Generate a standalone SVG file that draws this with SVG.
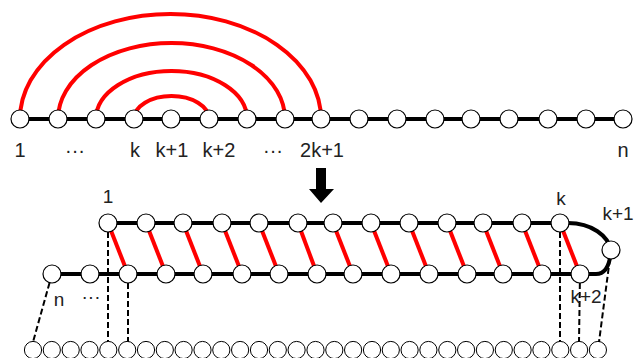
<svg xmlns="http://www.w3.org/2000/svg" width="636" height="358" viewBox="0 0 636 358">
<defs>
<style>
.n{fill:#fff;stroke:#000;stroke-width:1.2}
.b{fill:#fff;stroke:#000;stroke-width:1}
.blk{fill:none;stroke:#000;stroke-width:4}
.red{fill:none;stroke:#f00;stroke-width:4}
.dash{fill:none;stroke:#000;stroke-width:2;stroke-dasharray:6,3}
text{font-family:"Liberation Sans",Arial,sans-serif;fill:#222;text-anchor:middle}
.t1{font-size:20px}
.t2{font-size:19px}
</style>
</defs>
<rect width="636" height="358" fill="#fff"/>
<g id="connectors">
<line class="blk" x1="20" y1="119" x2="623" y2="119"/>
<path class="red" d="M20,119 A150.5,105 0 0 1 321,119"/>
<path class="red" d="M58,119 A113.5,76 0 0 1 285,119"/>
<path class="red" d="M96,119 A75.5,48 0 0 1 247,119"/>
<path class="red" d="M134,119 A37.5,23 0 0 1 209,119"/>
<path class="blk" d="M108,223 L568,223 C592,223 608,236 611,250"/>
<path class="blk" d="M52,274 L596,274 C605,274 610,265 611,250"/>
<line class="red" x1="108" y1="223" x2="128" y2="274"/>
<line class="red" x1="146" y1="223" x2="166" y2="274"/>
<line class="red" x1="183" y1="223" x2="203" y2="274"/>
<line class="red" x1="222" y1="223" x2="242" y2="274"/>
<line class="red" x1="259" y1="223" x2="279" y2="274"/>
<line class="red" x1="298" y1="223" x2="317" y2="274"/>
<line class="red" x1="333" y1="223" x2="353" y2="274"/>
<line class="red" x1="371" y1="223" x2="391" y2="274"/>
<line class="red" x1="409" y1="223" x2="429" y2="274"/>
<line class="red" x1="447" y1="223" x2="467" y2="274"/>
<line class="red" x1="483" y1="223" x2="503" y2="274"/>
<line class="red" x1="522" y1="223" x2="542" y2="274"/>
<line class="red" x1="560" y1="223" x2="580" y2="274"/>
<line class="dash" x1="52" y1="274" x2="33" y2="342"/>
<line class="dash" x1="108" y1="223" x2="108" y2="342"/>
<line class="dash" x1="128" y1="274" x2="128" y2="342"/>
<line class="dash" x1="560" y1="223" x2="560" y2="342"/>
<line class="dash" x1="580" y1="274" x2="579" y2="342"/>
<line class="dash" x1="611" y1="250" x2="599" y2="342"/>
<path d="M316,168 H326 V189 H334 L321,203 L309,189 H316 Z" fill="#000"/>
</g>
<g id="top-nodes">
<circle class="n" cx="20" cy="119" r="9"/>
<circle class="n" cx="58" cy="119" r="9"/>
<circle class="n" cx="96" cy="119" r="9"/>
<circle class="n" cx="134" cy="119" r="9"/>
<circle class="n" cx="171" cy="119" r="9"/>
<circle class="n" cx="209" cy="119" r="9"/>
<circle class="n" cx="247" cy="119" r="9"/>
<circle class="n" cx="285" cy="119" r="9"/>
<circle class="n" cx="321" cy="119" r="9"/>
<circle class="n" cx="359" cy="119" r="9"/>
<circle class="n" cx="397" cy="119" r="9"/>
<circle class="n" cx="435" cy="119" r="9"/>
<circle class="n" cx="471" cy="119" r="9"/>
<circle class="n" cx="509" cy="119" r="9"/>
<circle class="n" cx="548" cy="119" r="9"/>
<circle class="n" cx="586" cy="119" r="9"/>
<circle class="n" cx="623" cy="119" r="9"/>
</g>
<g id="top-labels">
<text class="t1" x="20" y="157">1</text>
<text class="t1" x="75" y="157">···</text>
<text class="t1" x="135" y="157">k</text>
<text class="t1" x="172" y="157">k+1</text>
<text class="t1" x="219" y="157">k+2</text>
<text class="t1" x="273" y="157">···</text>
<text class="t1" x="322" y="157">2k+1</text>
<text class="t1" x="623" y="157">n</text>
</g>
<g id="fold-top-row">
<circle class="n" cx="108" cy="223" r="9"/>
<circle class="n" cx="146" cy="223" r="9"/>
<circle class="n" cx="183" cy="223" r="9"/>
<circle class="n" cx="222" cy="223" r="9"/>
<circle class="n" cx="259" cy="223" r="9"/>
<circle class="n" cx="298" cy="223" r="9"/>
<circle class="n" cx="333" cy="223" r="9"/>
<circle class="n" cx="371" cy="223" r="9"/>
<circle class="n" cx="409" cy="223" r="9"/>
<circle class="n" cx="447" cy="223" r="9"/>
<circle class="n" cx="483" cy="223" r="9"/>
<circle class="n" cx="522" cy="223" r="9"/>
<circle class="n" cx="560" cy="223" r="9"/>
</g>
<g id="fold-turn">
<circle class="n" cx="611" cy="250" r="9"/>
</g>
<g id="fold-bottom-row">
<circle class="n" cx="52" cy="274" r="9"/>
<circle class="n" cx="90" cy="274" r="9"/>
<circle class="n" cx="128" cy="274" r="9"/>
<circle class="n" cx="166" cy="274" r="9"/>
<circle class="n" cx="203" cy="274" r="9"/>
<circle class="n" cx="242" cy="274" r="9"/>
<circle class="n" cx="279" cy="274" r="9"/>
<circle class="n" cx="317" cy="274" r="9"/>
<circle class="n" cx="353" cy="274" r="9"/>
<circle class="n" cx="391" cy="274" r="9"/>
<circle class="n" cx="429" cy="274" r="9"/>
<circle class="n" cx="467" cy="274" r="9"/>
<circle class="n" cx="503" cy="274" r="9"/>
<circle class="n" cx="542" cy="274" r="9"/>
<circle class="n" cx="580" cy="274" r="9"/>
</g>
<g id="fold-labels">
<text class="t2" x="108" y="203">1</text>
<text class="t2" x="561" y="205">k</text>
<text class="t2" x="618" y="220">k+1</text>
<text class="t2" x="586" y="303">k+2</text>
<text class="t2" x="59" y="306">n</text>
<text class="t2" x="91" y="303">···</text>
</g>
<g id="base-row">
<circle class="b" cx="33" cy="350" r="8.6"/>
<circle class="b" cx="51.8" cy="350" r="8.6"/>
<circle class="b" cx="70.7" cy="350" r="8.6"/>
<circle class="b" cx="89.5" cy="350" r="8.6"/>
<circle class="b" cx="108.3" cy="350" r="8.6"/>
<circle class="b" cx="127.2" cy="350" r="8.6"/>
<circle class="b" cx="146" cy="350" r="8.6"/>
<circle class="b" cx="164.8" cy="350" r="8.6"/>
<circle class="b" cx="183.6" cy="350" r="8.6"/>
<circle class="b" cx="202.5" cy="350" r="8.6"/>
<circle class="b" cx="221.3" cy="350" r="8.6"/>
<circle class="b" cx="240.1" cy="350" r="8.6"/>
<circle class="b" cx="259" cy="350" r="8.6"/>
<circle class="b" cx="277.8" cy="350" r="8.6"/>
<circle class="b" cx="296.6" cy="350" r="8.6"/>
<circle class="b" cx="315.5" cy="350" r="8.6"/>
<circle class="b" cx="334.3" cy="350" r="8.6"/>
<circle class="b" cx="353.1" cy="350" r="8.6"/>
<circle class="b" cx="372" cy="350" r="8.6"/>
<circle class="b" cx="390.8" cy="350" r="8.6"/>
<circle class="b" cx="409.6" cy="350" r="8.6"/>
<circle class="b" cx="428.4" cy="350" r="8.6"/>
<circle class="b" cx="447.3" cy="350" r="8.6"/>
<circle class="b" cx="466.1" cy="350" r="8.6"/>
<circle class="b" cx="484.9" cy="350" r="8.6"/>
<circle class="b" cx="503.8" cy="350" r="8.6"/>
<circle class="b" cx="522.6" cy="350" r="8.6"/>
<circle class="b" cx="541.4" cy="350" r="8.6"/>
<circle class="b" cx="560.3" cy="350" r="8.6"/>
<circle class="b" cx="579.1" cy="350" r="8.6"/>
<circle class="b" cx="597.9" cy="350" r="8.6"/>
</g>
</svg>
